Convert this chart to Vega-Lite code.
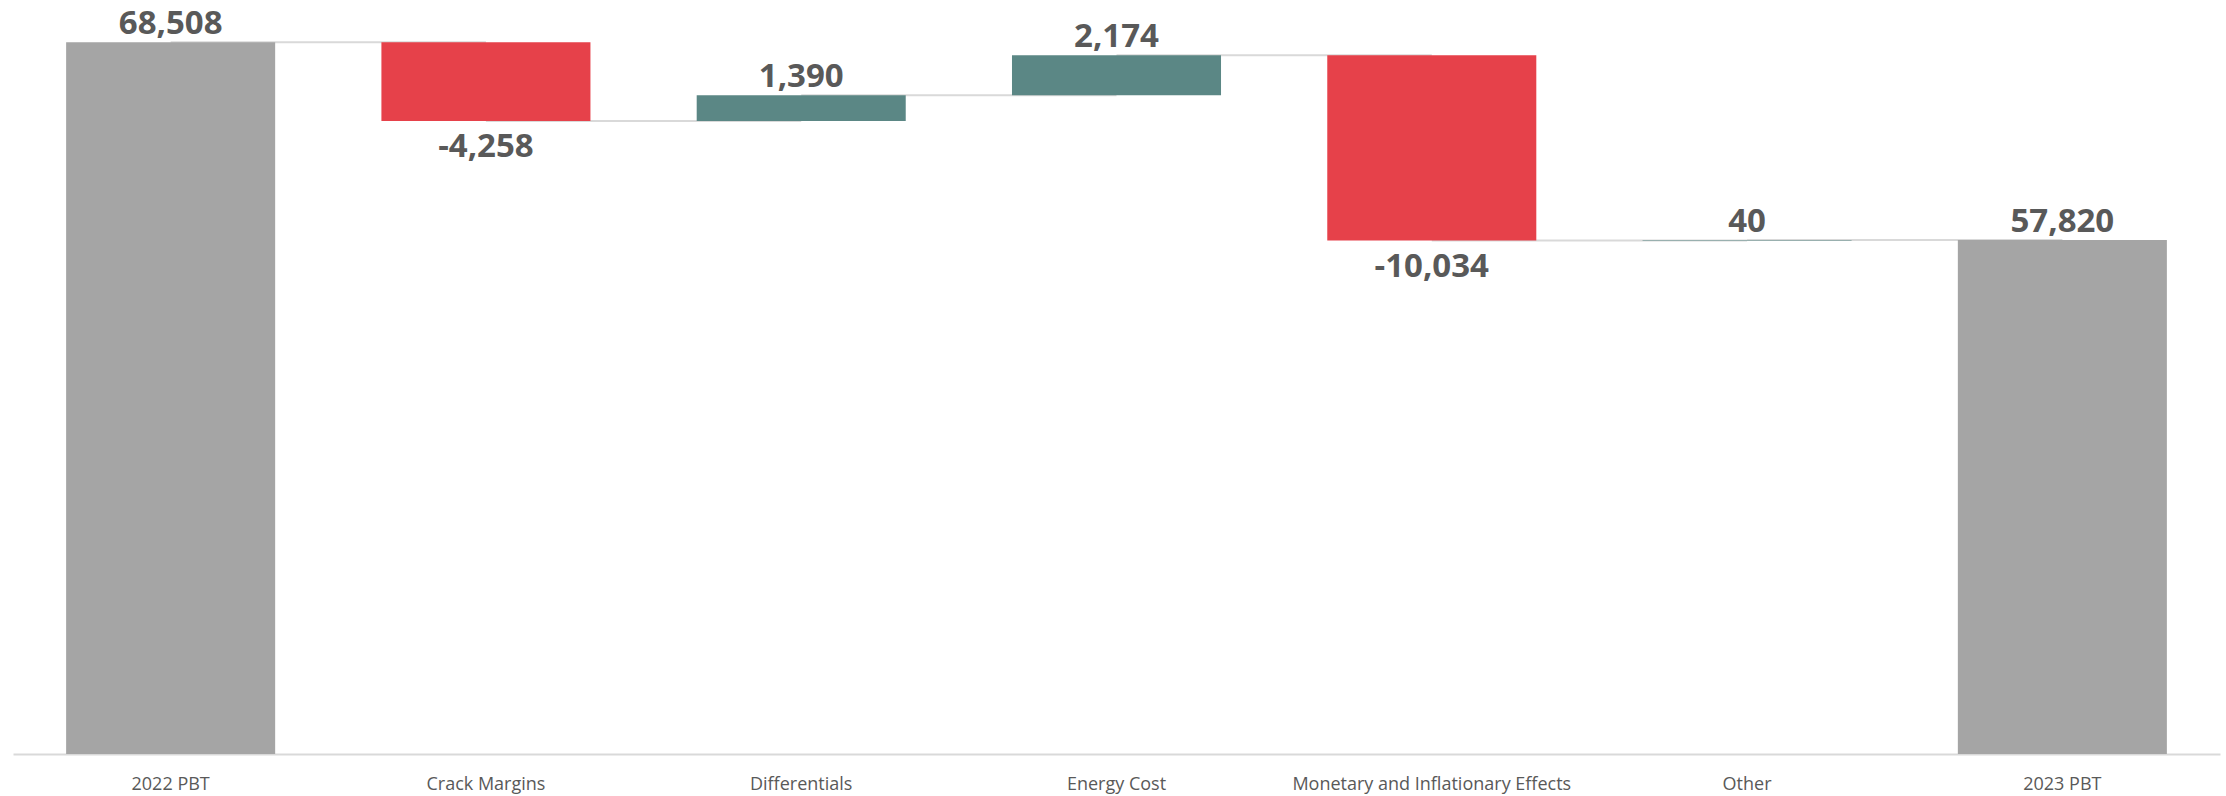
{
  "$schema": "https://vega.github.io/schema/vega-lite/v6.json",
  "width": 2207,
  "height": 754,
  "autosize": "none",
  "padding": {"left": 13, "top": 0, "right": 6, "bottom": 42},
  "background": "white",
  "config": {"view": {"stroke": null}, "font": "Open Sans"},
  "datasets": {
    "bars": [
      {"category": "2022 PBT", "start": 0, "end": 68508, "delta": 68508, "type": "total", "label": "68,508"},
      {"category": "Crack Margins", "start": 68508, "end": 64250, "delta": -4258, "type": "decrease", "label": "-4,258"},
      {"category": "Differentials", "start": 64250, "end": 65640, "delta": 1390, "type": "increase", "label": "1,390"},
      {"category": "Energy Cost", "start": 65640, "end": 67814, "delta": 2174, "type": "increase", "label": "2,174"},
      {"category": "Monetary and Inflationary Effects", "start": 67814, "end": 57780, "delta": -10034, "type": "decrease", "label": "-10,034"},
      {"category": "Other", "start": 57780, "end": 57820, "delta": 40, "type": "increase", "label": "40"},
      {"category": "2023 PBT", "start": 0, "end": 57820, "delta": 57820, "type": "total", "label": "57,820"}
    ],
    "links": [
      {"category": "2022 PBT", "next": "Crack Margins", "level": 68508},
      {"category": "Crack Margins", "next": "Differentials", "level": 64250},
      {"category": "Differentials", "next": "Energy Cost", "level": 65640},
      {"category": "Energy Cost", "next": "Monetary and Inflationary Effects", "level": 67814},
      {"category": "Monetary and Inflationary Effects", "next": "Other", "level": 57780},
      {"category": "Other", "next": "2023 PBT", "level": 57820}
    ]
  },
  "encoding": {
    "x": {
      "field": "category",
      "type": "nominal",
      "sort": ["2022 PBT", "Crack Margins", "Differentials", "Energy Cost", "Monetary and Inflationary Effects", "Other", "2023 PBT"],
      "scale": {"paddingInner": 0.337, "paddingOuter": 0.1685},
      "title": null,
      "axis": {
        "labelAngle": 0,
        "labelFont": "Open Sans",
        "labelFontSize": 18,
        "labelColor": "#595959",
        "labelPadding": 21,
        "labelLimit": 0,
        "labelBaseline": "top",
        "ticks": false,
        "domainColor": "#D9D9D9",
        "domainWidth": 2,
        "grid": false
      }
    }
  },
  "layer": [
    {
      "data": {"name": "links"},
      "mark": {"type": "rule", "stroke": "#D9D9D9", "strokeWidth": 2},
      "encoding": {
        "x2": {"field": "next"},
        "y": {"field": "level", "type": "quantitative", "scale": {"domain": [30000, 70800], "nice": false, "zero": false}, "axis": null}
      }
    },
    {
      "data": {"name": "bars"},
      "mark": {"type": "bar", "clip": true},
      "encoding": {
        "y": {"field": "start", "type": "quantitative"},
        "y2": {"field": "end"},
        "color": {
          "field": "type",
          "type": "nominal",
          "scale": {"domain": ["total", "increase", "decrease"], "range": ["#A5A5A5", "#5B8785", "#E6414A"]},
          "legend": null
        }
      }
    },
    {
      "data": {"name": "bars"},
      "transform": [{"filter": "datum.delta >= 0"}],
      "mark": {"type": "text", "font": "Open Sans", "fontSize": 33, "fontWeight": "bold", "color": "#595959", "baseline": "alphabetic", "dy": -8},
      "encoding": {
        "y": {"field": "end", "type": "quantitative"},
        "text": {"field": "label"}
      }
    },
    {
      "data": {"name": "bars"},
      "transform": [{"filter": "datum.delta < 0"}],
      "mark": {"type": "text", "font": "Open Sans", "fontSize": 33, "fontWeight": "bold", "color": "#595959", "baseline": "top", "dy": 10},
      "encoding": {
        "y": {"field": "end", "type": "quantitative"},
        "text": {"field": "label"}
      }
    }
  ]
}
